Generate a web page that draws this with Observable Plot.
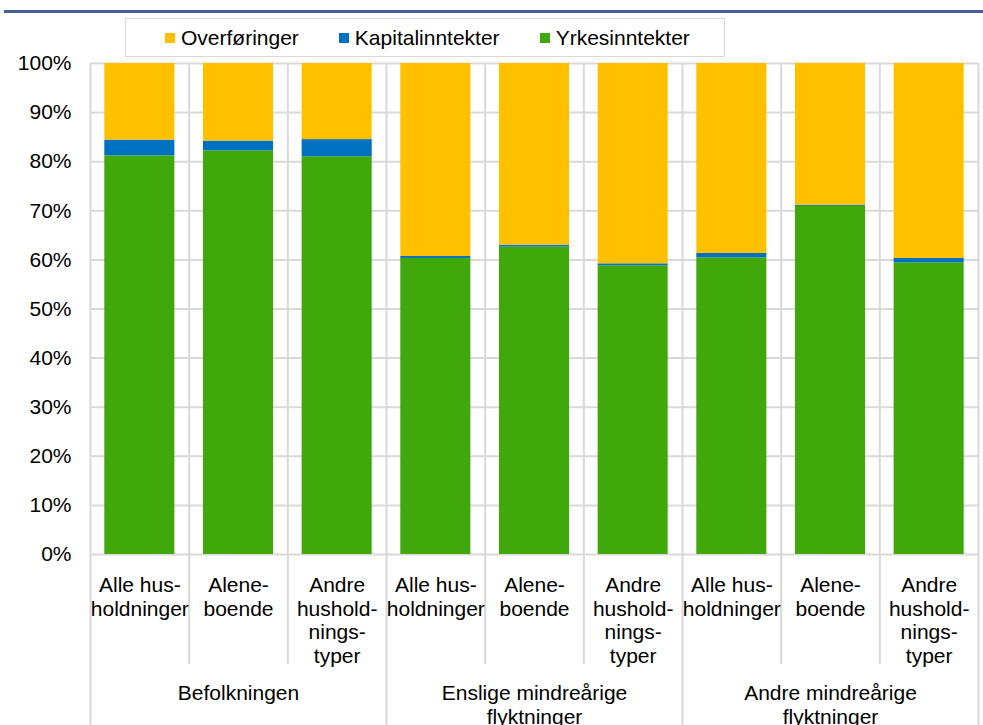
<!DOCTYPE html>
<html>
<head>
<meta charset="utf-8">
<script src="https://cdn.jsdelivr.net/npm/d3@7"></script>
<script src="https://cdn.jsdelivr.net/npm/@observablehq/plot@0.6"></script>
<style>
  html, body { margin: 0; padding: 0; background: #fff; }
  body { width: 983px; height: 725px; overflow: hidden; font-family: "Liberation Sans", Arial, sans-serif; position: relative; }
  #header { position: relative; height: 45px; z-index: 2; }
  #rule { position: absolute; left: 4px; right: 0; top: 10px; height: 3px; background: #446291; }
  #legend { position: absolute; left: 125px; top: 18px; width: 600px; height: 39px; border: 1px solid #D9D9D9; background: #fff;
            display: flex; align-items: center; padding-left: 39px; box-sizing: border-box; font-size: 21px; color: #000; }
  #legend .item { display: flex; align-items: center; margin-right: 40px; }
  #legend .sw { width: 10px; height: 10px; margin-right: 6px; }
  #chart { position: relative; z-index: 1; }
  #chart svg { display: block; }
</style>
</head>
<body>
<div id="header">
  <div id="rule"></div>
  <div id="legend"></div>
</div>
<div id="chart"></div>
<script>
// ---- data ----
const groups = ["Befolkningen", "Enslige mindreårige\nflyktninger", "Andre mindreårige\nflyktninger"];
const subLabels = ["Alle hus-\nholdninger", "Alene-\nboende", "Andre\nhushold-\nnings-\ntyper"];
const seriesNames = ["Yrkesinntekter", "Kapitalinntekter", "Overføringer"];
const legendOrder = ["Overføringer", "Kapitalinntekter", "Yrkesinntekter"];
const seriesColors = ["#41A80B", "#0070C0", "#FFC000"];
const yrkesinntekter   = [81.2, 82.2, 81.0, 60.3, 62.6, 58.8, 60.4, 70.9, 59.4];
const kapitalinntekter = [3.2, 2.0, 3.5, 0.4, 0.4, 0.4, 0.9, 0.2, 0.9];
const overforinger     = [15.6, 15.8, 15.5, 39.3, 37.0, 40.8, 38.7, 28.9, 39.7];
const yTicks = [0, 10, 20, 30, 40, 50, 60, 70, 80, 90, 100];

// ---- tables built from the arrays ----
const keys = [];
const catRows = [];
groups.forEach((g, gi) => subLabels.forEach((s, si) => {
  const key = gi + "-" + si;
  keys.push(key);
  catRows.push({key, label: s, gi, si});
}));
const valueSeries = [yrkesinntekter, kapitalinntekter, overforinger];
const rows = [];
keys.forEach((key, i) => seriesNames.forEach((name, j) => rows.push({key, series: name, value: valueSeries[j][i]})));
const groupRows = groups.map((g, gi) => ({key: gi + "-1", label: g}));

// ---- legend ----
const legend = document.getElementById("legend");
legendOrder.forEach(name => {
  const it = document.createElement("div");
  it.className = "item";
  const sw = document.createElement("div");
  sw.className = "sw";
  sw.style.background = seriesColors[seriesNames.indexOf(name)];
  const tx = document.createElement("span");
  tx.textContent = name;
  it.appendChild(sw); it.appendChild(tx);
  legend.appendChild(it);
});

// ---- chart ----
const W = 983, H = 680, mL = 90, mR = 5, mT = 18, mB = 171;
const bw = (W - mL - mR) / keys.length;
const grid = "#D9D9D9";

const chart = Plot.plot({
  width: W,
  height: H,
  marginLeft: mL,
  marginRight: mR,
  marginTop: mT,
  marginBottom: mB,
  style: {fontFamily: "'Liberation Sans', Arial, sans-serif", fontSize: "21px", color: "#000", background: "transparent"},
  x: {type: "band", domain: keys, paddingInner: 0, paddingOuter: 0, round: false, axis: null},
  y: {domain: [0, 100], axis: null},
  color: {domain: seriesNames, range: seriesColors},
  marks: [
    Plot.ruleY(yTicks, {y: d => d, stroke: grid, strokeWidth: 2}),
    Plot.ruleX(catRows, {x: "key", dx: -bw / 2, y1: 100, y2: d => d.si === 0 ? -36 : -22.4, stroke: grid, strokeWidth: 2}),
    Plot.ruleX(catRows.slice(-1), {x: "key", dx: bw / 2, y1: 100, y2: -36, stroke: grid, strokeWidth: 2}),
    Plot.barY(rows, {x: "key", y: "value", fill: "series", insetLeft: 14.3, insetRight: 14.3}),
    Plot.axisY(yTicks, {tickSize: 0, tickPadding: 19, tickFormat: d => d + "%", fontSize: 21, fill: "#000", label: null}),
    Plot.text(catRows, {x: "key", text: "label", frameAnchor: "bottom", lineAnchor: "top", dy: 21, lineHeight: 1.12, fontSize: 21, fill: "#000"}),
    Plot.text(groupRows, {x: "key", text: "label", frameAnchor: "bottom", lineAnchor: "top", dy: 129, lineHeight: 1.12, fontSize: 21, fill: "#000"})
  ]
});
document.getElementById("chart").appendChild(chart);
</script>
</body>
</html>
